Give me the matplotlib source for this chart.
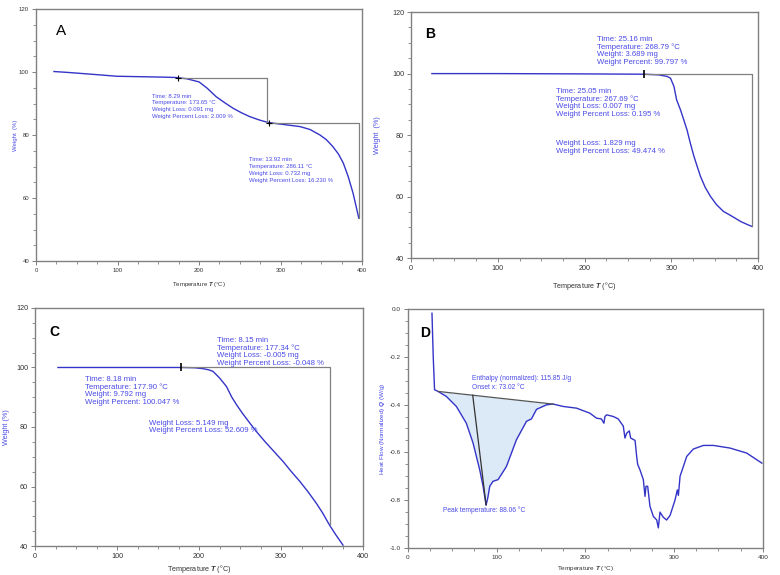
import matplotlib
matplotlib.use("Agg")
import matplotlib.pyplot as plt
from matplotlib.ticker import MultipleLocator, FormatStrFormatter
import numpy as np

plt.rcParams["font.family"] = ["Liberation Sans", "DejaVu Sans"]
plt.rcParams["mathtext.fontset"] = "custom"
plt.rcParams["mathtext.it"] = "Liberation Sans:italic:bold"

# Panel A - TGA curve
a_temp = [22, 40, 60, 80, 99, 120, 140, 160, 172, 185, 200, 210, 221, 232, 242, 252, 262, 274, 285,
          300, 312, 324, 336, 348, 356, 364, 371, 377, 383, 389, 393, 396]
a_wt = [100.2, 99.9, 99.5, 99.1, 98.7, 98.6, 98.5, 98.4, 98.3, 97.9, 96.9, 94.9, 92.2, 90.2, 88.5, 87.1,
        85.9, 84.8, 84.0, 83.5, 83.1, 82.7, 81.8, 80.1, 78.6, 76.4, 74.0, 71.1, 66.8, 61.5, 57.0, 53.6]
a_steps_x = [173.65, 283, 283, 396, 396]
a_steps_y = [98.0, 98.0, 83.7, 83.7, 53.6]
a_text1 = "Time: 8.29 min\nTemperature: 173.65 °C\nWeight Loss: 0.091 mg\nWeight Percent Loss: 2.009 %"
a_text2 = "Time: 13.92 min\nTemperature: 286.11 °C\nWeight Loss: 0.732 mg\nWeight Percent Loss: 16.230 %"

# Panel B
b_temp = [24, 100, 200, 268, 285, 295, 299, 303, 306, 310.5, 314, 318, 322, 326, 330, 333.5, 339, 345,
          352, 360, 370, 380, 387, 393]
b_wt = [100.0, 100.0, 99.9, 99.8, 99.6, 99.1, 98.5, 95.8, 91.5, 88.2, 85.2, 81.7, 77.2, 73.1, 69.6, 66.6,
        63.0, 60.1, 57.4, 55.2, 53.6, 51.9, 51.0, 50.3]
b_steps_x = [268.79, 393, 393]
b_steps_y = [99.8, 99.8, 50.3]
b_text1 = "Time: 25.16 min\nTemperature: 268.79 °C\nWeight: 3.689 mg\nWeight Percent: 99.797 %"
b_text2 = "Time: 25.05 min\nTemperature: 267.69 °C\nWeight Loss: 0.007 mg\nWeight Percent Loss: 0.195 %"
b_text3 = "Weight Loss: 1.829 mg\nWeight Percent Loss: 49.474 %"

# Panel C
c_temp = [28, 100, 180, 195, 205, 212, 217, 225, 233.5, 240, 245.7, 253, 262, 272, 282, 292, 302.5,
          312, 323, 333, 343, 351, 359, 367, 375.6]
c_wt = [100.0, 100.0, 100.0, 99.9, 99.6, 99.2, 98.7, 96.5, 93.6, 90.0, 87.5, 84.6, 81.3, 77.8, 74.6,
        71.6, 68.4, 65.2, 61.7, 58.2, 54.4, 51.0, 47.1, 43.7, 40.3]
c_steps_x = [178, 360, 360]
c_steps_y = [100.0, 100.0, 47.3]
c_text1 = "Time: 8.15 min\nTemperature: 177.34 °C\nWeight Loss: -0.005 mg\nWeight Percent Loss: -0.048 %"
c_text2 = "Time: 8.18 min\nTemperature: 177.90 °C\nWeight: 9.792 mg\nWeight Percent: 100.047 %"
c_text3 = "Weight Loss: 5.149 mg\nWeight Percent Loss: 52.609 %"

# Panel D - DSC curve
d_temp = [27.1, 28.5, 30.0, 33.9, 43.3, 54.6, 65.8, 73.4, 80.9, 84.7, 87.7, 88.1, 90.0, 92.2, 95.9, 101.6,
          111, 122.3, 133.6, 139.2, 144.9, 156.2, 163.7, 175, 190, 205, 212.6, 218, 220.9, 222, 224, 231.5,
          237, 242.7, 244.6, 246.5, 249.5, 251, 256, 257.8, 258.9, 261.5, 265.3, 267.2, 268.3, 270.2, 272.8,
          276.6, 280.4, 282.2, 284.1, 287.9, 291.6, 295.4, 301, 303.6, 304.8, 306.7, 314.2, 321.7, 333,
          344.3, 363, 381.8, 398.9]
d_flow = [-0.018, -0.20, -0.338, -0.345, -0.366, -0.408, -0.478, -0.561, -0.673, -0.742, -0.812, -0.82,
          -0.79, -0.742, -0.721, -0.714, -0.659, -0.547, -0.47, -0.46, -0.42, -0.401, -0.398, -0.408,
          -0.415, -0.436, -0.457, -0.46, -0.478, -0.45, -0.443, -0.45, -0.46, -0.49, -0.54, -0.52, -0.51,
          -0.54, -0.55, -0.617, -0.65, -0.673, -0.714, -0.784, -0.742, -0.742, -0.826, -0.868, -0.883,
          -0.916, -0.85, -0.872, -0.883, -0.864, -0.80, -0.757, -0.78, -0.70, -0.617, -0.586, -0.571,
          -0.571, -0.582, -0.603, -0.645]
d_base_x = [33.9, 163.7]
d_base_y = [-0.345, -0.398]
d_onset_x = [73.02, 88.06]
d_onset_y = [-0.361, -0.82]
d_text1 = "Enthalpy (normalized): 115.85 J/g\nOnset x: 73.02 °C"
d_text2 = "Peak temperature: 88.06 °C"

blue = "#3434c8"
txt_blue = "#4a4ae6"
gray = "#808080"
xlab = "Temperature $\\mathit{T}$ (°C)"

fig = plt.figure(figsize=(7.8, 5.75), dpi=100)


def style(ax, ylim, ymaj, ymin, ylabel, fs, xpad, ypad):
    ax.set_xlim(0, 400)
    ax.set_ylim(*ylim)
    ax.xaxis.set_major_locator(MultipleLocator(100))
    ax.xaxis.set_minor_locator(MultipleLocator(25))
    ax.yaxis.set_major_locator(MultipleLocator(ymaj))
    ax.yaxis.set_minor_locator(MultipleLocator(ymin))
    for s in ax.spines.values():
        s.set_color(gray)
        s.set_linewidth(1.0)
    ax.tick_params(which="both", direction="out", colors=gray, labelcolor="#333333", labelsize=fs, pad=2)
    ax.tick_params(which="major", length=3, width=0.7)
    ax.tick_params(which="minor", length=2, width=0.6)
    ax.set_xlabel(xlab, fontsize=fs, color="#333333", labelpad=xpad)
    ax.set_ylabel(ylabel, fontsize=fs, color=txt_blue, labelpad=ypad)


# A
axA = fig.add_axes([0.0462, 0.546, 0.418, 0.438])
style(axA, (40, 120), 20, 5, "Weight  (%)", 4.3, 5, 1)
axA.plot(a_temp, a_wt, color=blue, lw=1.0)
axA.plot(a_steps_x, a_steps_y, color=gray, lw=0.9)
axA.plot([173.65, 286.11], [98.0, 83.7], "+", color="black", ms=5, mew=0.8)
axA.text(141.8, 93.2, a_text1, color=txt_blue, fontsize=4.3, va="top", linespacing=1.45)
axA.text(261.5, 73.0, a_text2, color=txt_blue, fontsize=4.3, va="top", linespacing=1.45)
axA.text(0.06, 0.94, "A", transform=axA.transAxes, fontsize=11, va="top")

# B
axB = fig.add_axes([0.527, 0.551, 0.445, 0.428])
style(axB, (40, 120), 20, 5, "Weight  (%)", 5.2, 6, 8)
axB.plot(b_temp, b_wt, color=blue, lw=1.0)
axB.plot(b_steps_x, b_steps_y, color=gray, lw=0.9)
axB.plot([268.79], [99.8], "|", color="black", ms=6, mew=1.2)
axB.text(214.4, 112.2, b_text1, color=txt_blue, fontsize=5.6, va="top", linespacing=1.05)
axB.text(167.5, 95.3, b_text2, color=txt_blue, fontsize=5.6, va="top", linespacing=1.05)
axB.text(167.5, 78.3, b_text3, color=txt_blue, fontsize=5.6, va="top", linespacing=1.05)
axB.text(0.04, 0.94, "B", transform=axB.transAxes, fontsize=10, va="top", fontweight="bold")

# C
axC = fig.add_axes([0.0449, 0.0504, 0.4205, 0.414])
style(axC, (40, 120), 20, 5, "Weight (%)", 5.2, 2, 4)
axC.plot(c_temp, c_wt, color=blue, lw=1.0)
axC.plot(c_steps_x, c_steps_y, color=gray, lw=0.9)
axC.plot([177.6], [100.0], "|", color="black", ms=6, mew=1.2)
axC.text(222, 110.2, c_text1, color=txt_blue, fontsize=5.6, va="top", linespacing=1.05)
axC.text(61, 97.1, c_text2, color=txt_blue, fontsize=5.6, va="top", linespacing=1.05)
axC.text(139.3, 82.4, c_text3, color=txt_blue, fontsize=5.6, va="top", linespacing=1.05)
axC.text(0.045, 0.93, "C", transform=axC.transAxes, fontsize=10, va="top", fontweight="bold")

# D
axD = fig.add_axes([0.523, 0.047, 0.455, 0.4157])
style(axD, (-1.0, 0.0), 0.2, 0.05, "Heat Flow (Normalized) $\\mathit{Q}$ (W/g)", 4.6, 3, 2)
axD.yaxis.set_major_formatter(FormatStrFormatter("%.1f"))
xs = np.array(d_temp)
ys = np.array(d_flow)
mask = (xs >= d_base_x[0]) & (xs <= d_base_x[1])
base = np.interp(xs[mask], d_base_x, d_base_y)
axD.fill_between(xs[mask], ys[mask], base, color="#dce9f7", lw=0)
axD.plot(d_temp, d_flow, color=blue, lw=1.0)
axD.plot(d_base_x, d_base_y, color="#555555", lw=0.9)
axD.plot(d_onset_x, d_onset_y, color="#333333", lw=0.9)
axD.text(72.2, -0.277, d_text1, color=txt_blue, fontsize=4.8, va="top", linespacing=1.35)
axD.text(39.5, -0.843, d_text2, color=txt_blue, fontsize=4.8, va="center")
axD.text(0.035, 0.93, "D", transform=axD.transAxes, fontsize=10, va="top", fontweight="bold")

fig.savefig("out.png", dpi=100)
